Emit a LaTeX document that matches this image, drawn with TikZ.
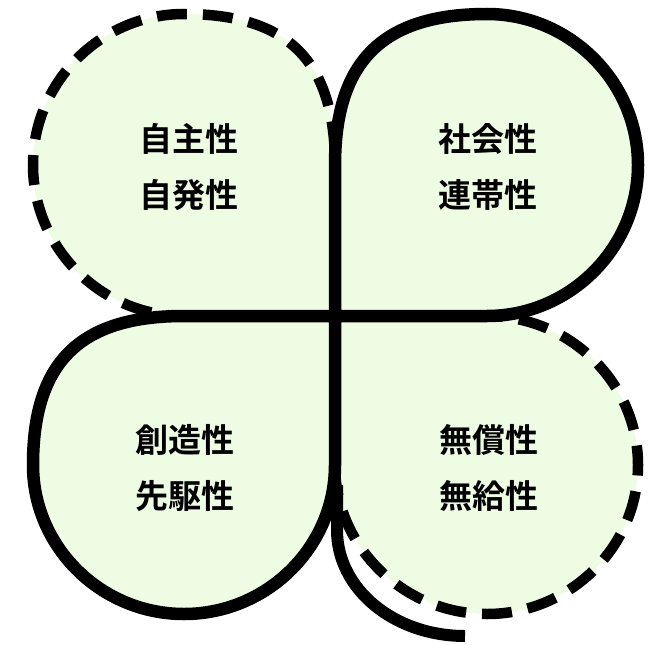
\documentclass[tikz,border=0pt]{standalone}
\usepackage{fontspec}
\newfontfamily\jpfont{Noto Sans CJK JP}[BoldFont={Noto Sans CJK JP Bold}]
\definecolor{leaffill}{RGB}{238,252,228}
\tikzset{
  leaffill/.style={fill=leaffill, draw=none},
  solidleaf/.style={draw=black, line width=12.5pt, line join=miter},
  dashleaf/.style={draw=black, line width=10.5pt, dash pattern=on 30pt off 16pt},
  stemline/.style={draw=black, line width=12pt, line cap=butt},
  leaflabel/.style={font=\jpfont\bfseries\fontsize{33}{56}\selectfont, align=center, text=black}
}
\begin{document}
\begin{tikzpicture}[x=1pt,y=-1pt]
\useasboundingbox (0,0) rectangle (648,645);
% leaf outlines
\def\tlpath{(335,316) -- (184,316) .. controls (101,316) and (33,248) .. (33,165) .. controls (33,82) and (101,14) .. (184,14) .. controls (288,14) and (335,61) .. (335,165) -- cycle}
\def\trpath{(335,316) -- (335,165) .. controls (335,61) and (383,14) .. (487,14) .. controls (570,14) and (638,82) .. (638,165) .. controls (638,248) and (570,316) .. (487,316) -- cycle}
\def\blpath{(335,316) -- (184,316) .. controls (80,316) and (33,362) .. (33,465) .. controls (33,547) and (101,614) .. (184,614) .. controls (267,614) and (335,547) .. (335,465) -- cycle}
\def\brpath{(335,316) -- (487,316) .. controls (570,316) and (638,383) .. (638,465) .. controls (638,547) and (570,614) .. (487,614) .. controls (404,614) and (335,547) .. (335,465) -- cycle}
% fills
\path[leaffill] \tlpath;
\path[leaffill] \trpath;
\path[leaffill] \blpath;
\path[leaffill] \brpath;
% dashed leaves
\path[dashleaf] \tlpath;
\path[dashleaf] \brpath;
% solid leaves
\path[solidleaf] \trpath;
\path[solidleaf] \blpath;
% stem
\coordinate (stemtop) at (337,485);
\coordinate (stembend) at (337,530);
\coordinate (stemend) at (465,636);
\draw[stemline] (stemtop) -- (stembend) .. controls (337,589) and (394,636) .. (stemend);
% labels
\node[leaflabel] (tl) at (189,167) {自主性\\自発性};
\node[leaflabel] (tr) at (488,167) {社会性\\連帯性};
\node[leaflabel] (bl) at (185,468) {創造性\\先駆性};
\node[leaflabel] (br) at (489,468) {無償性\\無給性};
\end{tikzpicture}
\end{document}
